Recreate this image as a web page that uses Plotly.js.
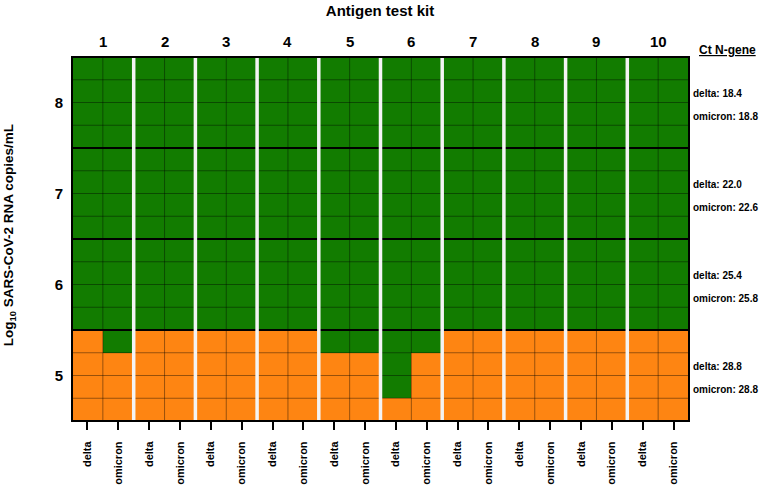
<!DOCTYPE html>
<html>
<head>
<meta charset="utf-8">
<script src="https://cdn.plot.ly/plotly-3.0.1.min.js"></script>
<style>
  html, body { margin: 0; padding: 0; background: #fff; }
  #chart { width: 760px; height: 489px; }
</style>
</head>
<body>
<div id="chart"></div>
<script>
// antigen test kits, two variants each
let kits = ['1', '2', '3', '4', '5', '6', '7', '8', '9', '10'];
let variants = ['delta', 'omicron'];

// dilution steps (log10 copies/mL), cell centres
let levels = [4.625, 4.875, 5.125, 5.375, 5.625, 5.875, 6.125, 6.375,
              6.625, 6.875, 7.125, 7.375, 7.625, 7.875, 8.125, 8.375];

// lowest level that still gave a positive result, per kit
let deltaLimit   = [5.5, 5.5, 5.5, 5.5, 5.25, 4.75, 5.5, 5.5, 5.5, 5.5];
let omicronLimit = [5.25, 5.5, 5.5, 5.5, 5.25, 5.25, 5.5, 5.5, 5.5, 5.5];

// Ct values of the N gene per decade
let ctLevels  = [8, 7, 6, 5];
let ctDelta   = ['18.4', '22.0', '25.4', '28.8'];
let ctOmicron = ['18.8', '22.6', '25.8', '28.8'];

let font = 'Liberation Sans, Arial, sans-serif';
let green = '#127c00';
let orange = '#fe8512';

let xIdx = [];
let xText = [];
let limits = [];
for (let k = 0; k < kits.length; k++) {
    for (let v = 0; v < variants.length; v++) {
        xIdx.push(k * 2 + v);
        xText.push(variants[v]);
        limits.push(v == 0 ? deltaLimit[k] : omicronLimit[k]);
    }
}

let z = [];
for (let r = 0; r < levels.length; r++) {
    let row = [];
    for (let c = 0; c < xIdx.length; c++) {
        row.push(levels[r] > limits[c] ? 1 : 0);
    }
    z.push(row);
}

let trace = {
    type: 'heatmap',
    x: xIdx,
    y: levels,
    z: z,
    zmin: 0,
    zmax: 1,
    colorscale: [[0, orange], [0.5, orange], [0.5, green], [1, green]],
    showscale: false,
    hoverinfo: 'skip',
};

let shapes = [];
// row lines, thick at each decade boundary
for (let r = 0; r < levels.length - 1; r++) {
    let yb = (levels[r] + levels[r + 1]) / 2;
    let major = Math.abs((yb % 1) - 0.5) < 1e-6;
    shapes.push({
        type: 'line', xref: 'paper', yref: 'y',
        x0: 0, x1: 1, y0: yb, y1: yb,
        line: major ? { color: '#000', width: 2 } : { color: 'rgba(0,0,0,0.4)', width: 1 },
    });
}
// thin line between delta / omicron
for (let k = 0; k < kits.length; k++) {
    shapes.push({
        type: 'line', xref: 'x', yref: 'paper',
        x0: k * 2 + 0.5, x1: k * 2 + 0.5, y0: 0, y1: 1,
        line: { color: 'rgba(0,0,0,0.4)', width: 1 },
    });
}
// white separators between kits
for (let k = 0; k < kits.length - 1; k++) {
    shapes.push({
        type: 'line', xref: 'x', yref: 'paper',
        x0: k * 2 + 1.5, x1: k * 2 + 1.5, y0: 0, y1: 1,
        line: { color: '#f4f4f4', width: 3.5 },
    });
}
// frame
shapes.push({
    type: 'rect', xref: 'paper', yref: 'paper',
    x0: 0, x1: 1, y0: 0, y1: 1,
    line: { color: '#000', width: 2 },
});

let annotations = [];
for (let k = 0; k < kits.length; k++) {
    annotations.push({
        x: k * 2 + 0.5, xref: 'x', y: 1.043, yref: 'paper',
        text: '<b>' + kits[k] + '</b>', showarrow: false,
        xanchor: 'center', yanchor: 'middle',
        font: { family: font, size: 15, color: '#000' },
    });
}
annotations.push({
    x: 1.013, xref: 'paper', y: 1.019, yref: 'paper',
    text: '<b><u>Ct N-gene</u></b>', showarrow: false,
    xanchor: 'left', yanchor: 'middle',
    font: { family: font, size: 12, color: '#000' },
});
for (let i = 0; i < ctLevels.length; i++) {
    annotations.push({
        x: 1.003, xref: 'paper', y: ctLevels[i] + 0.1, yref: 'y',
        text: '<b>delta: ' + ctDelta[i] + '</b>', showarrow: false,
        xanchor: 'left', yanchor: 'middle',
        font: { family: font, size: 10, color: '#000' },
    });
    annotations.push({
        x: 1.003, xref: 'paper', y: ctLevels[i] - 0.15, yref: 'y',
        text: '<b>omicron: ' + ctOmicron[i] + '</b>', showarrow: false,
        xanchor: 'left', yanchor: 'middle',
        font: { family: font, size: 10, color: '#000' },
    });
}
annotations.push({
    x: -0.1, xref: 'paper', y: 0.511, yref: 'paper',
    text: '<b>Log<sub>10</sub> SARS-CoV-2 RNA copies/mL</b>', showarrow: false,
    textangle: -90, xanchor: 'center', yanchor: 'middle',
    font: { family: font, size: 13.5, color: '#000' },
});

let layout = {
    width: 760,
    height: 489,
    margin: { l: 72, r: 71, t: 57, b: 68 },
    paper_bgcolor: '#fff',
    plot_bgcolor: '#fff',
    title: {
        text: '<b>Antigen test kit</b>',
        x: 0.5, xanchor: 'center',
        y: 0.979, yanchor: 'middle',
        font: { family: font, size: 15, color: '#000' },
    },
    xaxis: {
        range: [-0.5, 19.5],
        tickvals: xIdx,
        ticktext: xText.map(t => '<b>' + t + '</b>'),
        tickangle: -90,
        ticks: 'outside',
        ticklen: 8,
        tickwidth: 2,
        tickcolor: '#000',
        ticklabelstandoff: 7,
        tickfont: { family: font, size: 11, color: '#000' },
        showgrid: false,
        zeroline: false,
        fixedrange: true,
    },
    yaxis: {
        range: [4.5, 8.5],
        tickvals: ctLevels,
        ticktext: ctLevels.map(v => '<b>' + v + '</b>'),
        ticks: '',
        ticklabelstandoff: 8,
        tickfont: { family: font, size: 15, color: '#000' },
        showgrid: false,
        zeroline: false,
        fixedrange: true,
    },
    shapes: shapes,
    annotations: annotations,
    showlegend: false,
};

Plotly.newPlot('chart', [trace], layout, { displayModeBar: false, staticPlot: true });
</script>
</body>
</html>
